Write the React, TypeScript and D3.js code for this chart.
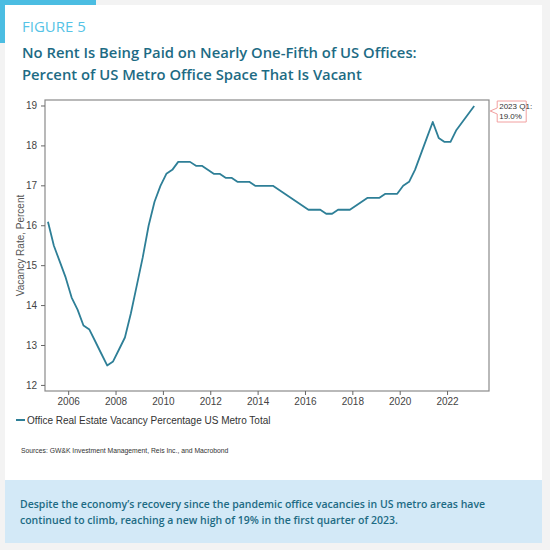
import React from "react";
import * as d3 from "d3";

const startYear = 2005;
const vacancy: number[] = [
  16.1, 15.5, 15.1, 14.7,
  14.2, 13.9, 13.5, 13.4,
  13.1, 12.8, 12.5, 12.6,
  12.9, 13.2, 13.8, 14.5,
  15.2, 16.0, 16.6, 17.0,
  17.3, 17.4, 17.6, 17.6,
  17.6, 17.5, 17.5, 17.4,
  17.3, 17.3, 17.2, 17.2,
  17.1, 17.1, 17.1, 17.0,
  17.0, 17.0, 17.0, 16.9,
  16.8, 16.7, 16.6, 16.5,
  16.4, 16.4, 16.4, 16.3,
  16.3, 16.4, 16.4, 16.4,
  16.5, 16.6, 16.7, 16.7,
  16.7, 16.8, 16.8, 16.8,
  17.0, 17.1, 17.4, 17.8,
  18.2, 18.6, 18.2, 18.1,
  18.1, 18.4, 18.6, 18.8,
  19.0,
];
const xTicks: number[] = [2006, 2008, 2010, 2012, 2014, 2016, 2018, 2020, 2022];
const yTicks: number[] = [12, 13, 14, 15, 16, 17, 18, 19];

const figureLabel = "FIGURE 5";
const titleLines = [
  "No Rent Is Being Paid on Nearly One-Fifth of US Offices:",
  "Percent of US Metro Office Space That Is Vacant",
];
const yLabel = "Vacancy Rate, Percent";
const legendLabel = "Office Real Estate Vacancy Percentage US Metro Total";
const sourcesText = "Sources: GW&K Investment Management, Reis Inc., and Macrobond";
const annotationLines = ["2023 Q1:", "19.0%"];
const noteLines = [
  "Despite the economy\u2019s recovery since the pandemic office vacancies in US metro areas have",
  "continued to climb, reaching a new high of 19% in the first quarter of 2023.",
];

const LINE = "#2e7f97";
const TEAL_TEXT = "#1d6b84";
const AXIS_FONT = "'Liberation Sans', Arial, sans-serif";
const TITLE_FONT = "'Open Sans', 'Noto Sans', sans-serif";

export default function App() {
  const left = 45, right = 489, top = 100, bottom = 391;
  const x = d3.scaleLinear().domain([2005, 2023.75]).range([left, right]);
  const y = d3.scaleLinear().domain([11.86, 19.15]).range([bottom, top]);
  const pts = vacancy.map((v, i) => ({ t: startYear + i * 0.25 + 0.125, v }));
  const line = d3
    .line<{ t: number; v: number }>()
    .x((d) => x(d.t))
    .y((d) => y(d.v));
  const last = pts[pts.length - 1];
  const ax = x(last.t) + 16;
  const ay = y(last.v);

  return (
    <div style={{ position: "absolute", left: 0, top: 0, width: 550, height: 550 }}>
      <svg width={550} height={550} style={{ display: "block" }}>
        <rect x={0} y={0} width={550} height={550} fill="#f3f3f3" />
        <rect x={5} y={5} width={537} height={475} fill="#ffffff" />
        <rect x={0} y={0} width={96} height={5} fill="#4bbde2" />
        <rect x={0} y={0} width={5} height={43} fill="#4bbde2" />
        <rect x={5} y={480} width={537} height={63} fill="#d3e9f7" />

        <text x={22} y={32} fontFamily={TITLE_FONT} fontSize={15} fill="#55c3e6">
          {figureLabel}
        </text>
        {titleLines.map((t, i) => (
          <text key={i} x={22} y={58 + i * 22} fontFamily={TITLE_FONT} fontSize={14.8} fontWeight={600} fill={TEAL_TEXT}>
            {t}
          </text>
        ))}

        {/* frame */}
        <rect x={left} y={top} width={right - left} height={bottom - top} fill="none" stroke="#8a8a8a" strokeWidth={1.2} />
        {yTicks.map((t) => (
          <g key={t}>
            <line x1={left - 4} x2={left} y1={y(t)} y2={y(t)} stroke="#666" strokeWidth={1} />
            <text x={left - 8} y={y(t)} dy="0.35em" textAnchor="end" fontFamily={AXIS_FONT} fontSize={10} fill="#444">
              {t}
            </text>
          </g>
        ))}
        {xTicks.map((t) => (
          <g key={t}>
            <line x1={x(t)} x2={x(t)} y1={bottom} y2={bottom + 4} stroke="#666" strokeWidth={1} />
            <text x={x(t)} y={bottom + 14} textAnchor="middle" fontFamily={AXIS_FONT} fontSize={10} fill="#444">
              {t}
            </text>
          </g>
        ))}
        <text
          transform={`translate(20,${(top + bottom) / 2}) rotate(-90)`}
          textAnchor="middle"
          dy="0.35em"
          fontFamily={AXIS_FONT}
          fontSize={10}
          fill="#555"
        >
          {yLabel}
        </text>

        <path d={line(pts) ?? ""} fill="none" stroke={LINE} strokeWidth={1.8} strokeLinejoin="round" />

        {/* annotation */}
        <path
          d={`M${ax + 7},${top + 1} H${ax + 36} V${top + 22} H${ax + 7} V${ay + 8} L${ax},${ay + 5} L${ax + 7},${ay + 2} Z`}
          fill="#ffffff"
          stroke="#f2a0a0"
          strokeWidth={1}
        />
        {annotationLines.map((t, i) => (
          <text key={i} x={ax + 9} y={top + 9 + i * 10} fontFamily={AXIS_FONT} fontSize={8} fill="#333">
            {t}
          </text>
        ))}

        {/* legend */}
        <line x1={16} x2={25} y1={420} y2={420} stroke={LINE} strokeWidth={2} />
        <text x={27} y={420} dy="0.35em" fontFamily={AXIS_FONT} fontSize={10} fill="#333">
          {legendLabel}
        </text>
        <text x={21} y={453} fontFamily={AXIS_FONT} fontSize={6.8} fill="#333">
          {sourcesText}
        </text>

        {noteLines.map((t, i) => (
          <text key={i} x={20} y={508 + i * 16} fontFamily={TITLE_FONT} fontSize={10.5} fontWeight={600} fill={TEAL_TEXT}>
            {t}
          </text>
        ))}
      </svg>
    </div>
  );
}
